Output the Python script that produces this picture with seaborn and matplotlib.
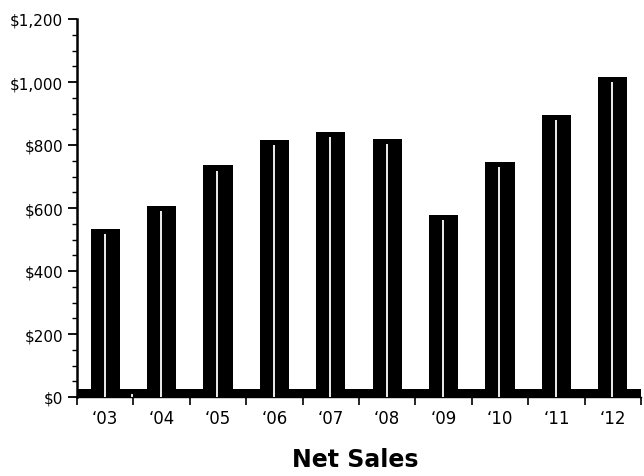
import matplotlib
matplotlib.use('Agg')

import numpy as np
import pandas as pd
import matplotlib.pyplot as plt
import seaborn as sns
from matplotlib.ticker import MultipleLocator, FuncFormatter, FixedLocator

# DATA
years = ["\u201803", "\u201804", "\u201805", "\u201806", "\u201807",
         "\u201808", "\u201809", "\u201810", "\u201811", "\u201812"]
net_sales = [533, 607, 735, 815, 840, 818, 578, 745, 896, 1015]

sns.set_style("ticks")
plt.rcParams['font.family'] = ['DejaVu Sans']

df = pd.DataFrame({"year": years, "sales": net_sales})

fig = plt.figure(figsize=(6.44, 4.77), dpi=100)
ax = fig.add_axes([77 / 644, 79 / 477, (641 - 77) / 644, (398 - 20) / 477])

sns.barplot(data=df, x="year", y="sales", color="black", saturation=1,
            width=0.52, linewidth=0, ax=ax, zorder=2)

# floor band along the bottom
ax.axhspan(0, 24, color="black", lw=0, zorder=1)

# white highlight stripe on each bar
for p in ax.patches:
    xc = p.get_x() + p.get_width() * 0.48
    ax.vlines(xc, 0, p.get_height() - 16, color="white", lw=1.3, zorder=3)

ax.set_ylim(0, 1200)
ax.set_xlim(-0.5, 9.5)
ax.yaxis.set_major_locator(MultipleLocator(200))
ax.yaxis.set_minor_locator(MultipleLocator(50))
ax.yaxis.set_major_formatter(FuncFormatter(lambda v, pos: f"${v:,.0f}"))
ax.xaxis.set_minor_locator(FixedLocator(np.arange(-0.5, 10, 1)))

ax.tick_params(axis='x', which='major', length=0, pad=9, labelsize=12, colors='black')
ax.tick_params(axis='x', which='minor', length=6, width=1.2, color='black')
ax.tick_params(axis='y', which='major', length=6.5, width=1.3, pad=3.5,
               labelsize=11, colors='black')
ax.tick_params(axis='y', which='minor', length=3.5, width=1, color='black')

ax.set_xlabel("")
ax.set_ylabel("")
sns.despine(ax=ax)
ax.spines['left'].set_linewidth(1.8)
ax.spines['left'].set_color('black')
ax.spines['bottom'].set_linewidth(1)
ax.spines['bottom'].set_color('black')

fig.text(0.552, 0.036, "Net Sales", ha="center", va="center",
         fontsize=17, fontweight="bold", color="black")

fig.savefig("out.png", dpi=100)
